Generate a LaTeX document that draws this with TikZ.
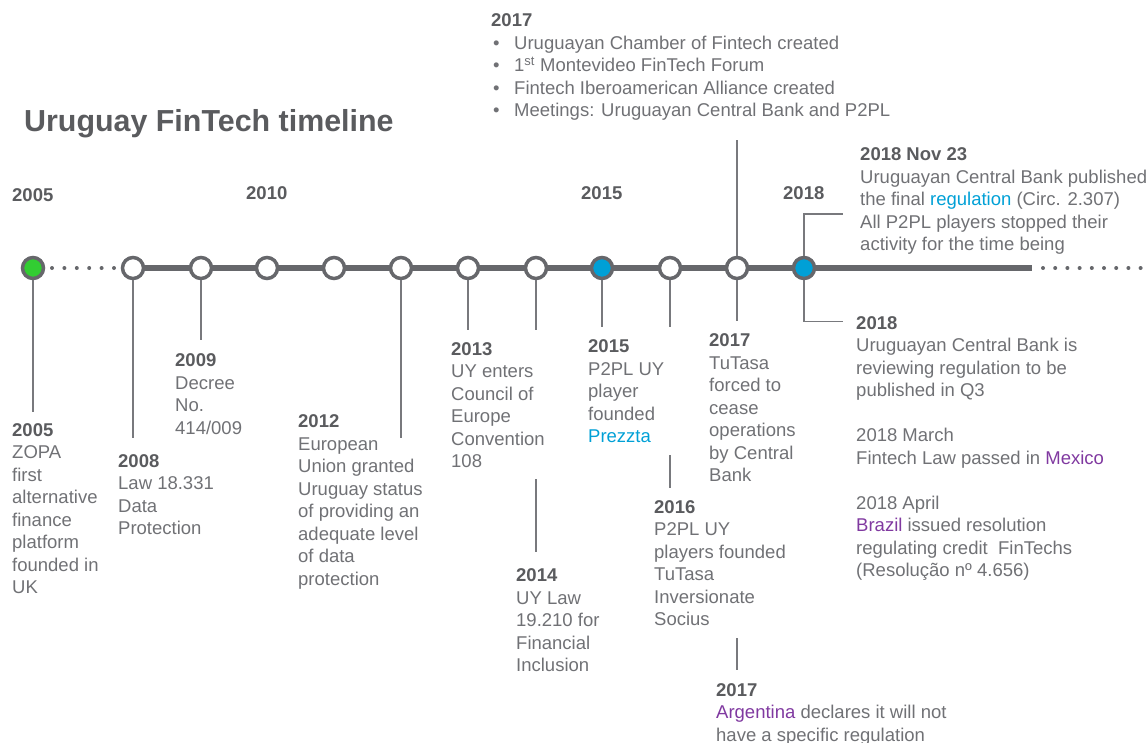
\documentclass[tikz,border=0pt]{standalone}
\usepackage{fontspec}
\setmainfont{Liberation Sans}
\definecolor{lg}{RGB}{102,103,107}
\definecolor{cg}{RGB}{120,121,125}
\definecolor{tg}{RGB}{112,113,117}
\definecolor{hg}{RGB}{90,91,94}
\definecolor{bl}{RGB}{0,160,214}
\definecolor{gr}{RGB}{50,205,50}
\definecolor{pu}{RGB}{128,57,160}
\newcommand\blt{\makebox[23pt][l]{\hspace{2pt}\textbullet}}
\newcommand\hd[1]{{\bfseries\color{hg}#1}}
\begin{document}
\begin{tikzpicture}[x=1pt,y=-1pt,
  ev/.style={circle, minimum size=21pt, inner sep=0pt, line width=3.5pt, draw=lg, fill=white},
  conn/.style={draw=cg, line width=1.3pt},
  txt/.style={anchor=base west, align=left, inner sep=0pt, text=tg, font=\fontsize{18.5}{22.5}\selectfont},
  yr/.style={anchor=base west, inner sep=0pt, text=hg, font=\bfseries\fontsize{18.5}{22.5}\selectfont}]
\useasboundingbox (0,0) rectangle (1147,742);

% timeline coordinates
\coordinate (lineend) at (1032,268);
% main line
\draw[lg, line width=6pt] (133,268) -- (lineend);
\foreach \i in {0,...,5} \fill[lg] (52+12.4*\i,268) circle (2pt);
\foreach \i in {0,...,8} \fill[lg] (1043+12.2*\i,268) circle (2pt);

% event nodes
\node[ev, fill=gr] (n1) at (33,268) {};
\node[ev] (n2) at (133,268) {};
\node[ev] (n3) at (201,268) {};
\node[ev] (n4) at (267,268) {};
\node[ev] (n5) at (334,268) {};
\node[ev] (n6) at (401,268) {};
\node[ev] (n7) at (468,268) {};
\node[ev] (n8) at (536,268) {};
\node[ev, fill=bl] (n9) at (602,268) {};
\node[ev] (n10) at (670,268) {};
\node[ev] (n11) at (737,268) {};
\node[ev, fill=bl] (n12) at (804,268) {};

% title and year labels
\node[anchor=base west, inner sep=0pt, text=hg, font=\bfseries\fontsize{30.4}{36}\selectfont] (title) at (24,131) {Uruguay FinTech timeline};
\node[yr] (y2005) at (12,201.5) {2005};
\node[yr] (y2010) at (246,199) {2010};
\node[yr] (y2015) at (581,199) {2015};
\node[yr] (y2018) at (783,199) {2018};

% connector end points
\coordinate (c1) at (33,412);
\coordinate (c2) at (133,438);
\coordinate (c3) at (201,340);
\coordinate (c6) at (401,438);
\coordinate (c7) at (468,330);
\coordinate (c8) at (536,330);
\coordinate (c8a) at (536,479);
\coordinate (c8b) at (536,552);
\coordinate (c9) at (602,327);
\coordinate (c10) at (670,327);
\coordinate (c10a) at (670,455);
\coordinate (c10b) at (670,488);
\coordinate (c11) at (737,321);
\coordinate (c11u) at (737,140);
\coordinate (c11a) at (737,638);
\coordinate (c11b) at (737,670);
\coordinate (c12u) at (843,214);
\coordinate (c12d) at (843,321.5);

\draw[conn] (n1) -- (c1);
\draw[conn] (n2) -- (c2);
\draw[conn] (n3) -- (c3);
\draw[conn] (n6) -- (c6);
\draw[conn] (n7) -- (c7);
\draw[conn] (n8) -- (c8);
\draw[conn] (c8a) -- (c8b);
\draw[conn] (n9) -- (c9);
\draw[conn] (n10) -- (c10);
\draw[conn] (c10a) -- (c10b);
\draw[conn] (n11) -- (c11);
\draw[conn] (n11) -- (c11u);
\draw[conn] (c11a) -- (c11b);
\draw[conn] (n12) |- (c12u);
\draw[conn] (n12) |- (c12d);

% texts (anchor at baseline of the last line)
\node[txt] (t2017top) at (491,{26.6+4*22.5}) {\hd{2017}\\
\blt Uruguayan Chamber of Fintech created\\
\blt 1\textsuperscript{st} Montevideo FinTech Forum\\
\blt Fintech Iberoamerican Alliance created\\
\blt Meetings: Uruguayan Central Bank and P2PL};

\node[txt] (t2018nov) at (860,{160.5+4*22.5}) {\hd{2018 Nov 23}\\
Uruguayan Central Bank published\\
the final \textcolor{bl}{regulation} (Circ. 2.307)\\
All P2PL players stopped their\\
activity for the time being};

\node[txt] (t2005) at (12,{436+7*22.5}) {\hd{2005}\\ ZOPA\\ first\\ alternative\\ finance\\ platform\\ founded in\\ UK};
\node[txt] (t2008) at (118,{467+3*22.5}) {\hd{2008}\\ Law 18.331\\ Data\\ Protection};
\node[txt] (t2009) at (175,{366.7+3*22.5}) {\hd{2009}\\ Decree\\ No.\\ 414/009};
\node[txt] (t2012) at (298,{427.5+7*22.5}) {\hd{2012}\\ European\\ Union granted\\ Uruguay status\\ of providing an\\ adequate level\\ of data\\ protection};
\node[txt] (t2013) at (451,{355+5*22.5}) {\hd{2013}\\ UY enters\\ Council of\\ Europe\\ Convention\\ 108};
\node[txt] (t2014) at (516,{581.7+4*22.5}) {\hd{2014}\\ UY Law\\ 19.210 for\\ Financial\\ Inclusion};
\node[txt] (t2015) at (588,{352.7+4*22.5}) {\hd{2015}\\ P2PL UY\\ player\\ founded\\ \textcolor{bl}{Prezzta}};
\node[txt] (t2016) at (654,{513.3+5*22.5}) {\hd{2016}\\ P2PL UY\\ players founded\\ TuTasa\\ Inversionate\\ Socius};
\node[txt] (t2017a) at (709,{346.7+6*22.5}) {\hd{2017}\\ TuTasa\\ forced to\\ cease\\ operations\\ by Central\\ Bank};
\node[txt] (t2017b) at (716,{696+2*22.5}) {\hd{2017}\\ \textcolor{pu}{Argentina} declares it will not\\ have a specific regulation};
\node[txt] (t2018) at (856,{329+11*22.5}) {\hd{2018}\\
Uruguayan Central Bank is\\
reviewing regulation to be\\
published in Q3\\[22.5pt]
2018 March\\
Fintech Law passed in \textcolor{pu}{Mexico}\\[22.5pt]
2018 April\\
\textcolor{pu}{Brazil} issued resolution\\
regulating credit\ \ FinTechs\\
(Resolução nº 4.656)};
\end{tikzpicture}
\end{document}
